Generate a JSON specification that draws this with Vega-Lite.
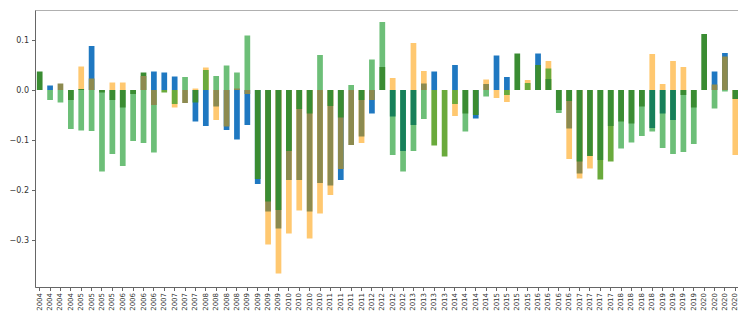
{
  "$schema": "https://vega.github.io/schema/vega-lite/v6.json",
  "autosize": "none",
  "width": 705,
  "height": 277,
  "padding": {"left": 35, "top": 10, "right": 0, "bottom": 27},
  "background": "white",
  "config": {
    "view": {"stroke": "#b0b0b0", "strokeWidth": 1},
    "axis": {"labelFont": "DejaVu Sans", "labelColor": "#333", "domainColor": "#666", "tickColor": "#666", "grid": false}
  },
  "data": {"values": [
    {"q":"2004Q1","s":"D","v":0.037},
    {"q":"2004Q2","s":"B","v":0.009},{"q":"2004Q2","s":"L","v":-0.02},
    {"q":"2004Q3","s":"V","v":0.013},{"q":"2004Q3","s":"L","v":-0.025},
    {"q":"2004Q4","s":"L","v":-0.078},{"q":"2004Q4","s":"D","v":-0.02},
    {"q":"2005Q1","s":"O","v":0.047},{"q":"2005Q1","s":"D","v":0.002},{"q":"2005Q1","s":"L","v":-0.081},
    {"q":"2005Q2","s":"B","v":0.088},{"q":"2005Q2","s":"V","v":0.023},{"q":"2005Q2","s":"L","v":-0.082},
    {"q":"2005Q3","s":"L","v":-0.163},{"q":"2005Q3","s":"D","v":-0.005},
    {"q":"2005Q4","s":"O","v":0.015},{"q":"2005Q4","s":"L","v":-0.128},{"q":"2005Q4","s":"D","v":-0.02},
    {"q":"2006Q1","s":"O","v":0.015},{"q":"2006Q1","s":"L","v":-0.152},{"q":"2006Q1","s":"D","v":-0.035},
    {"q":"2006Q2","s":"L","v":-0.102},{"q":"2006Q2","s":"D","v":-0.008},
    {"q":"2006Q3","s":"D","v":0.035},{"q":"2006Q3","s":"V","v":0.028},{"q":"2006Q3","s":"L","v":-0.106},
    {"q":"2006Q4","s":"B","v":0.037},{"q":"2006Q4","s":"L","v":-0.125},{"q":"2006Q4","s":"V","v":-0.03},
    {"q":"2007Q1","s":"B","v":0.035},{"q":"2007Q1","s":"Y","v":-0.005},
    {"q":"2007Q2","s":"B","v":0.027},{"q":"2007Q2","s":"O","v":-0.035},{"q":"2007Q2","s":"Y","v":-0.028},
    {"q":"2007Q3","s":"L","v":0.026},{"q":"2007Q3","s":"V","v":-0.026},
    {"q":"2007Q4","s":"O","v":0.003},{"q":"2007Q4","s":"B","v":-0.063},{"q":"2007Q4","s":"D","v":-0.025},
    {"q":"2008Q1","s":"O","v":0.045},{"q":"2008Q1","s":"Y","v":0.04},{"q":"2008Q1","s":"B","v":-0.072},
    {"q":"2008Q2","s":"L","v":0.028},{"q":"2008Q2","s":"O","v":-0.06},{"q":"2008Q2","s":"V","v":-0.033},
    {"q":"2008Q3","s":"L","v":0.049},{"q":"2008Q3","s":"B","v":-0.08},{"q":"2008Q3","s":"V","v":-0.073},
    {"q":"2008Q4","s":"L","v":0.035},{"q":"2008Q4","s":"V","v":0.003},{"q":"2008Q4","s":"B","v":-0.099},
    {"q":"2009Q1","s":"L","v":0.109},{"q":"2009Q1","s":"B","v":-0.07},{"q":"2009Q1","s":"V","v":-0.008},
    {"q":"2009Q2","s":"B","v":-0.188},{"q":"2009Q2","s":"D","v":-0.178},
    {"q":"2009Q3","s":"O","v":-0.309},{"q":"2009Q3","s":"V","v":-0.243},{"q":"2009Q3","s":"D","v":-0.223},
    {"q":"2009Q4","s":"O","v":-0.367},{"q":"2009Q4","s":"V","v":-0.277},{"q":"2009Q4","s":"D","v":-0.24},
    {"q":"2010Q1","s":"O","v":-0.287},{"q":"2010Q1","s":"V","v":-0.18},{"q":"2010Q1","s":"D","v":-0.122},
    {"q":"2010Q2","s":"O","v":-0.241},{"q":"2010Q2","s":"V","v":-0.18},{"q":"2010Q2","s":"D","v":-0.038},
    {"q":"2010Q3","s":"O","v":-0.297},{"q":"2010Q3","s":"V","v":-0.243},{"q":"2010Q3","s":"D","v":-0.047},
    {"q":"2010Q4","s":"L","v":0.07},{"q":"2010Q4","s":"O","v":-0.247},{"q":"2010Q4","s":"V","v":-0.186},
    {"q":"2011Q1","s":"O","v":-0.21},{"q":"2011Q1","s":"V","v":-0.191},{"q":"2011Q1","s":"D","v":-0.032},
    {"q":"2011Q2","s":"B","v":-0.18},{"q":"2011Q2","s":"V","v":-0.158},{"q":"2011Q2","s":"D","v":-0.055},
    {"q":"2011Q3","s":"L","v":0.01},{"q":"2011Q3","s":"V","v":-0.11},
    {"q":"2011Q4","s":"O","v":-0.106},{"q":"2011Q4","s":"V","v":-0.093},{"q":"2011Q4","s":"D","v":-0.02},
    {"q":"2012Q1","s":"L","v":0.061},{"q":"2012Q1","s":"B","v":-0.047},{"q":"2012Q1","s":"V","v":-0.02},
    {"q":"2012Q2","s":"L","v":0.136},{"q":"2012Q2","s":"D","v":0.046},
    {"q":"2012Q3","s":"O","v":0.024},{"q":"2012Q3","s":"L","v":-0.13},{"q":"2012Q3","s":"T","v":-0.053},
    {"q":"2012Q4","s":"L","v":-0.163},{"q":"2012Q4","s":"T","v":-0.122},
    {"q":"2013Q1","s":"O","v":0.094},{"q":"2013Q1","s":"L","v":-0.122},{"q":"2013Q1","s":"T","v":-0.07},
    {"q":"2013Q2","s":"O","v":0.038},{"q":"2013Q2","s":"V","v":0.013},{"q":"2013Q2","s":"L","v":-0.058},
    {"q":"2013Q3","s":"B","v":0.037},{"q":"2013Q3","s":"Y","v":-0.111},
    {"q":"2013Q4","s":"Y","v":-0.133},
    {"q":"2014Q1","s":"B","v":0.05},{"q":"2014Q1","s":"O","v":-0.052},{"q":"2014Q1","s":"Y","v":-0.028},
    {"q":"2014Q2","s":"L","v":-0.083},{"q":"2014Q2","s":"D","v":-0.047},
    {"q":"2014Q3","s":"B","v":-0.057},{"q":"2014Q3","s":"D","v":-0.05},
    {"q":"2014Q4","s":"O","v":0.021},{"q":"2014Q4","s":"V","v":0.012},{"q":"2014Q4","s":"L","v":-0.013},
    {"q":"2015Q1","s":"B","v":0.069},{"q":"2015Q1","s":"O","v":-0.016},
    {"q":"2015Q2","s":"B","v":0.026},{"q":"2015Q2","s":"O","v":-0.024},{"q":"2015Q2","s":"Y","v":-0.01},
    {"q":"2015Q3","s":"D","v":0.073},
    {"q":"2015Q4","s":"O","v":0.02},{"q":"2015Q4","s":"Y","v":0.014},
    {"q":"2016Q1","s":"B","v":0.073},{"q":"2016Q1","s":"D","v":0.05},
    {"q":"2016Q2","s":"O","v":0.058},{"q":"2016Q2","s":"Y","v":0.043},{"q":"2016Q2","s":"D","v":0.022},
    {"q":"2016Q3","s":"L","v":-0.046},{"q":"2016Q3","s":"D","v":-0.04},
    {"q":"2016Q4","s":"O","v":-0.138},{"q":"2016Q4","s":"V","v":-0.077},{"q":"2016Q4","s":"D","v":-0.022},
    {"q":"2017Q1","s":"O","v":-0.177},{"q":"2017Q1","s":"V","v":-0.167},{"q":"2017Q1","s":"D","v":-0.143},
    {"q":"2017Q2","s":"O","v":-0.157},{"q":"2017Q2","s":"D","v":-0.132},
    {"q":"2017Q3","s":"Y","v":-0.179},{"q":"2017Q3","s":"D","v":-0.14},
    {"q":"2017Q4","s":"Y","v":-0.143},{"q":"2017Q4","s":"D","v":-0.072},
    {"q":"2018Q1","s":"L","v":-0.117},{"q":"2018Q1","s":"D","v":-0.063},
    {"q":"2018Q2","s":"L","v":-0.105},{"q":"2018Q2","s":"D","v":-0.067},
    {"q":"2018Q3","s":"L","v":-0.092},{"q":"2018Q3","s":"D","v":-0.033},
    {"q":"2018Q4","s":"O","v":0.072},{"q":"2018Q4","s":"L","v":-0.083},{"q":"2018Q4","s":"T","v":-0.076},
    {"q":"2019Q1","s":"O","v":0.012},{"q":"2019Q1","s":"L","v":-0.116},{"q":"2019Q1","s":"T","v":-0.047},
    {"q":"2019Q2","s":"O","v":0.058},{"q":"2019Q2","s":"L","v":-0.128},{"q":"2019Q2","s":"T","v":-0.06},
    {"q":"2019Q3","s":"O","v":0.046},{"q":"2019Q3","s":"L","v":-0.124},{"q":"2019Q3","s":"D","v":-0.01},
    {"q":"2019Q4","s":"L","v":-0.108},{"q":"2019Q4","s":"D","v":-0.035},
    {"q":"2020Q1","s":"D","v":0.112},
    {"q":"2020Q2","s":"B","v":0.037},{"q":"2020Q2","s":"V","v":0.011},{"q":"2020Q2","s":"L","v":-0.037},
    {"q":"2020Q3","s":"B","v":0.074},{"q":"2020Q3","s":"V","v":0.067},{"q":"2020Q3","s":"L","v":-0.003},
    {"q":"2020Q4","s":"O","v":-0.13},{"q":"2020Q4","s":"D","v":-0.018}
  ]},
  "mark": {"type": "bar", "clip": true},
  "encoding": {
    "x": {
      "field": "q", "type": "ordinal", "sort": null,
      "scale": {"paddingInner": 0.45, "paddingOuter": 0.177},
      "axis": {"title": null, "labelAngle": 270, "labelFontSize": 7, "labelExpr": "substring(datum.value, 0, 4)", "tickSize": 3.5, "labelPadding": 2, "domain": true}
    },
    "y": {
      "field": "v", "type": "quantitative", "stack": null,
      "scale": {"domain": [-0.394, 0.16], "nice": false, "zero": false},
      "axis": {"title": null, "values": [0.1, 0, -0.1, -0.2, -0.3], "format": ".1f", "labelFontSize": 8, "tickSize": 3.5, "labelPadding": 3}
    },
    "color": {
      "field": "s", "type": "nominal", "legend": null,
      "scale": {"domain": ["B","O","D","L","V","T","Y"], "range": ["#1f78c1","#ffc870","#3a8c32","#6dbf78","#8c8a4f","#17805a","#6aaa3c"]}
    }
  }
}
